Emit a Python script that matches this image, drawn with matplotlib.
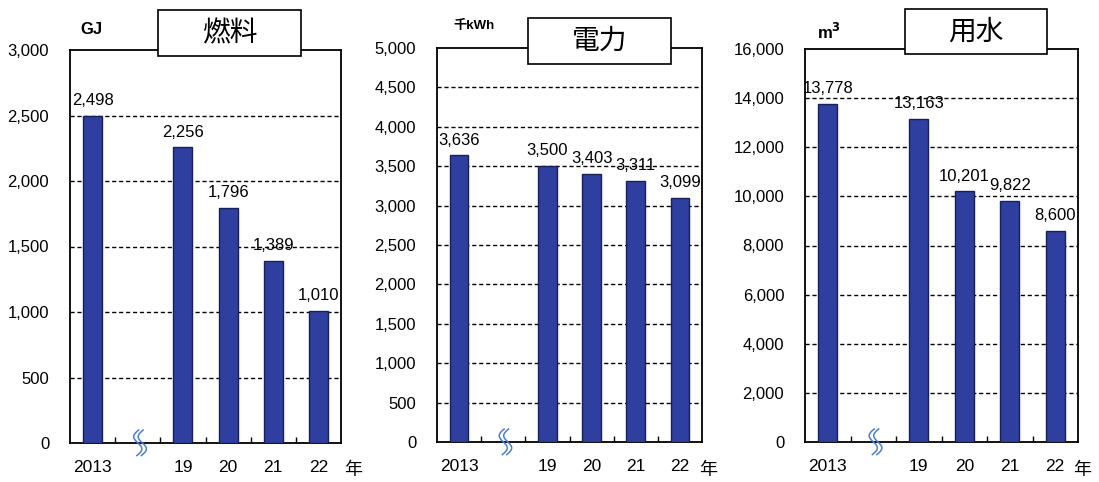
import numpy as np
import matplotlib.pyplot as plt
from matplotlib.patches import Rectangle

years = ["2013", "", "19", "20", "21", "22"]
fuel = [2498, None, 2256, 1796, 1389, 1010]
power = [3636, None, 3500, 3403, 3311, 3099]
water = [13778, None, 13163, 10201, 9822, 8600]

titles = ["燃料", "電力", "用水"]
units = ["GJ", "千kWh", r"m$^{\mathbf{3}}$"]
ymax = [3000, 5000, 16000]
ystep = [500, 500, 2000]
series = [fuel, power, water]

W, H = 1099, 482
# axes boxes in pixels: left, right, top, bottom
boxes = [(70, 341, 50, 443), (437, 702, 48, 442), (805, 1078, 49, 442)]
title_boxes = [(158, 301, 10, 56), (528, 671, 18, 64), (905, 1047, 9, 54)]
unit_pos = [(80, 29), (453, 26), (817, 32)]
unit_size = [12, 9.5, 12]
nen_x = [344, 699, 1073]

num_font = ["Liberation Sans", "DejaVu Sans"]
jp_font = ["Noto Sans CJK JP", "DejaVu Sans"]
unit_font = ["Liberation Sans", "Noto Sans CJK JP", "DejaVu Sans"]

bar_color = "#2f3f9f"
edge_color = "#18205a"

fig = plt.figure(figsize=(W / 100, H / 100), dpi=100)

for i in range(3):
    l, r, t, b = boxes[i]
    ax = fig.add_axes([l / W, 1 - b / H, (r - l) / W, (b - t) / H])
    x = np.arange(len(years))
    vals = series[i]
    for xi, v in zip(x, vals):
        if v is None:
            continue
        ax.bar(xi, v, width=0.42, color=bar_color, edgecolor=edge_color,
               linewidth=1, zorder=3)
        ax.text(xi, v + ymax[i] * 0.02, f"{v:,}", ha="center", va="bottom",
                fontsize=12, family=num_font, zorder=4)
    ax.set_xlim(-0.5, len(years) - 0.5)
    ax.set_ylim(0, ymax[i])
    ticks = np.arange(0, ymax[i] + 1, ystep[i])
    ax.set_yticks(ticks)
    ax.set_yticklabels([f"{v:,}" for v in ticks], family=num_font, fontsize=12)
    for tv in ticks[1:-1]:
        ax.axhline(tv, color="black", lw=1, ls=(0, (3, 2)), zorder=1)
    ax.set_xticks(x)
    ax.set_xticklabels(years, family=num_font, fontsize=12.5)
    ax.tick_params(axis="y", length=0, pad=15)
    ax.tick_params(axis="x", length=0, pad=12)
    ax.set_xticks(np.arange(0.5, len(years) - 0.5), minor=True)
    ax.tick_params(axis="x", which="minor", direction="in", length=4, width=1)
    for s in ax.spines.values():
        s.set_linewidth(1.3)

    # axis break squiggle in the empty slot (two S strokes)
    tt = np.linspace(0, 1, 60)
    for off in (-0.05, 0.05):
        xs = 1.05 + off - 0.1 * np.sin(tt * 2 * np.pi) - 0.04 * (tt - 0.5)
        ys = 0.033 - tt * 0.065
        ax.plot(xs, ys, color="#4a7fd0", lw=1.1, transform=ax.get_xaxis_transform(),
                clip_on=False, zorder=5)

    fig.text(nen_x[i] / W, 1 - 470 / H, "年", family=jp_font, fontsize=13,
             ha="left", va="center")

    tl, tr, tt0, tb = title_boxes[i]
    fig.patches.append(Rectangle((tl / W, 1 - tb / H), (tr - tl) / W, (tb - tt0) / H,
                                 transform=fig.transFigure, facecolor="white",
                                 edgecolor="black", lw=1.2, zorder=10))
    fig.text((tl + tr) / 2 / W, 1 - (tt0 + tb) / 2 / H, titles[i],
             family=jp_font, fontsize=20, ha="center", va="center", zorder=11)

    ux, uy = unit_pos[i]
    fig.text(ux / W, 1 - uy / H, units[i], family=unit_font, fontsize=unit_size[i],
             fontweight="bold", ha="left", va="center")

fig.savefig("out.png", dpi=100)
